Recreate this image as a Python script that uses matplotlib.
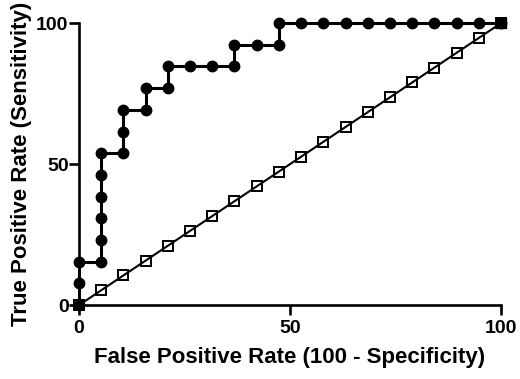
import matplotlib.pyplot as plt

# ROC curve points (100 - specificity, sensitivity), in %
fpr = [0, 0, 0, 5.26, 5.26, 5.26, 5.26, 5.26, 5.26, 10.53, 10.53, 10.53,
       15.79, 15.79, 21.05, 21.05, 26.32, 31.58, 36.84, 36.84, 42.11, 47.37,
       47.37, 52.63, 57.89, 63.16, 68.42, 73.68, 78.95, 84.21, 89.47, 94.74, 100]
tpr = [0, 7.69, 15.38, 15.38, 23.08, 30.77, 38.46, 46.15, 53.85, 53.85, 61.54, 69.23,
       69.23, 76.92, 76.92, 84.62, 84.62, 84.62, 84.62, 92.31, 92.31, 92.31,
       100, 100, 100, 100, 100, 100, 100, 100, 100, 100, 100]

# line of identity
ref_x = [0, 5.26, 10.53, 15.79, 21.05, 26.32, 31.58, 36.84, 42.11, 47.37, 52.63,
         57.89, 63.16, 68.42, 73.68, 78.95, 84.21, 89.47, 94.74, 100]
ref_y = ref_x

plt.rcParams['font.family'] = ['Liberation Sans', 'DejaVu Sans']
plt.rcParams['font.weight'] = 'bold'

fig = plt.figure(figsize=(5.2, 3.79), dpi=100)
ax = fig.add_axes([0.152, 0.195, 0.8115, 0.744])

ax.plot(ref_x, ref_y, 's', ms=6.5, mfc='white', mec='black', mew=1.4, clip_on=False, zorder=3)
ax.plot(ref_x, ref_y, '-', color='black', lw=1.5, clip_on=False, zorder=4)
ax.plot(fpr, tpr, '-o', color='black', lw=2.2, ms=7.5, clip_on=False, zorder=5)
ax.plot([100], [100], 's', color='black', ms=7, clip_on=False, zorder=6)

ax.set_xlim(0, 100)
ax.set_ylim(0, 100)
ax.set_xticks([0, 50, 100])
ax.set_yticks([0, 50, 100])
for s in ['top', 'right']:
    ax.spines[s].set_visible(False)
for s in ['left', 'bottom']:
    ax.spines[s].set_linewidth(1.9)
ax.tick_params(width=1.9, length=7, labelsize=14)
ax.tick_params(axis='x', pad=4)
ax.tick_params(axis='y', pad=0.5)
ax.set_xlabel('False Positive Rate (100 - Specificity)', fontsize=16, fontweight='bold', labelpad=7)
ax.set_ylabel('True Positive Rate (Sensitivity)', fontsize=16, fontweight='bold', labelpad=3)

fig.savefig('out.png', dpi=100)
